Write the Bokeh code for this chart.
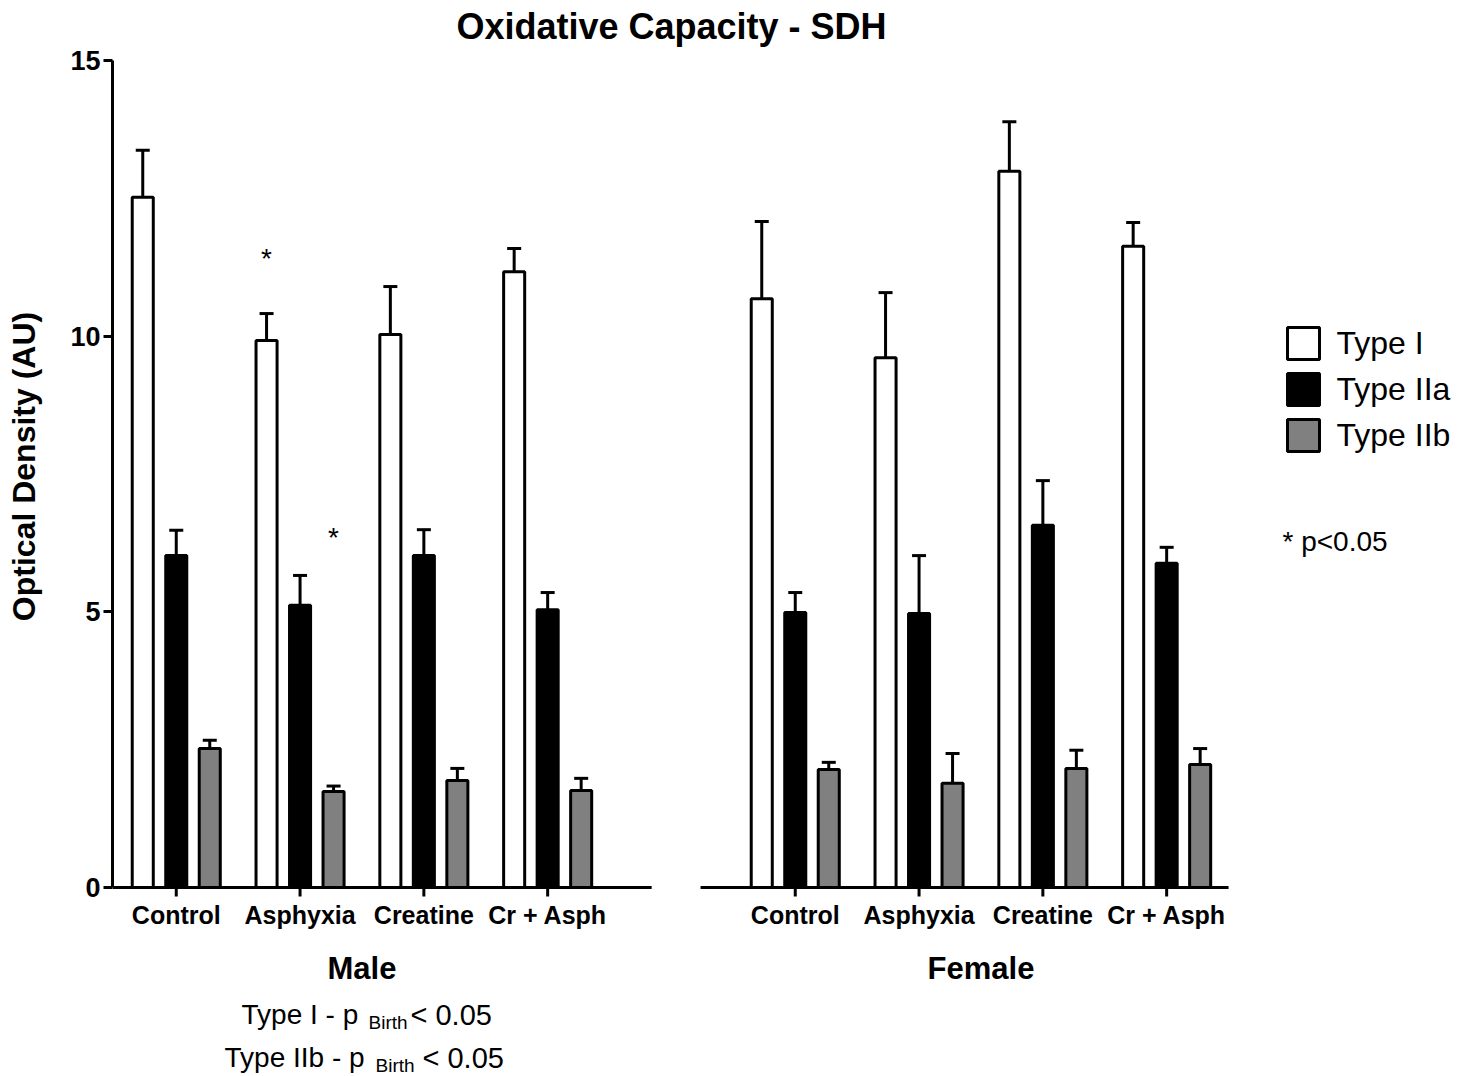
import numpy as np
from bokeh.plotting import figure
from bokeh.layouts import column
from bokeh.models import (ColumnDataSource, Range1d, FixedTicker, Whisker, TeeHead,
                          Legend, LegendItem, Label)
from bokeh.core.properties import value
from bokeh.embed import file_html
from bokeh.resources import INLINE

# ---------------- data ----------------
categories = ["Control", "Asphyxia", "Creatine", "Cr + Asph"]
sexes = ["Male", "Female"]
fiber_types = ["Type I", "Type IIa", "Type IIb"]

male_type_i = [12.52, 9.92, 10.03, 11.17]
male_type_i_err = [0.85, 0.49, 0.87, 0.42]
male_type_iia = [6.02, 5.12, 6.02, 5.04]
male_type_iia_err = [0.46, 0.54, 0.47, 0.31]
male_type_iib = [2.52, 1.74, 1.94, 1.76]
male_type_iib_err = [0.15, 0.10, 0.22, 0.22]

female_type_i = [10.68, 9.61, 12.99, 11.63]
female_type_i_err = [1.40, 1.18, 0.90, 0.43]
female_type_iia = [4.99, 4.97, 6.57, 5.88]
female_type_iia_err = [0.36, 1.05, 0.81, 0.29]
female_type_iib = [2.14, 1.89, 2.16, 2.23]
female_type_iib_err = [0.13, 0.54, 0.33, 0.29]

sig_sex = ["Male", "Male"]
sig_category = ["Asphyxia", "Asphyxia"]
sig_type = ["Type I", "Type IIb"]
sig_y = [11.4, 6.35]

y_ticks = [0, 5, 10, 15]

# ---------------- layout helpers ----------------
FONT = "Liberation Sans"
W = 1470
H_MAIN = 932
H_BOT = 1076 - H_MAIN
LEFT = 112                 # page x of the y axis / frame left
PXX = 123.8                # px per group
PXY = 827.0 / 15           # px per y unit
Y0_PAGE = 887.0            # page y of value 0
X_START = -0.515
X0_PAGE = LEFT - X_START * PXX


def dx(px):
    return (px - X0_PAGE) / PXX


def dy(py):
    return (Y0_PAGE - py) / PXY


sex_offset = {"Male": 0.0, "Female": 5.0}
type_offset = {"Type I": -0.2706, "Type IIa": 0.0, "Type IIb": 0.2706}
type_fill = {"Type I": "white", "Type IIa": "black", "Type IIb": "#808080"}
axis_pad = {"Male": (0.515, 0.84), "Female": (0.765, 0.50)}

values = {
    ("Male", "Type I"): (male_type_i, male_type_i_err),
    ("Male", "Type IIa"): (male_type_iia, male_type_iia_err),
    ("Male", "Type IIb"): (male_type_iib, male_type_iib_err),
    ("Female", "Type I"): (female_type_i, female_type_i_err),
    ("Female", "Type IIa"): (female_type_iia, female_type_iia_err),
    ("Female", "Type IIb"): (female_type_iib, female_type_iib_err),
}

x_range = Range1d(X_START, X_START + (W - LEFT) / PXX)

p = figure(width=W, height=H_MAIN,
           x_range=x_range,
           y_range=Range1d(dy(H_MAIN), dy(0)),
           x_axis_location=None, y_axis_location="left",
           output_backend="svg", toolbar_location=None,
           min_border_left=LEFT, min_border_right=0,
           min_border_top=0, min_border_bottom=0,
           outline_line_color=None, background_fill_color="white")
p.grid.visible = False

yaxis = p.yaxis[0]
yaxis.ticker = FixedTicker(ticks=y_ticks)
yaxis.bounds = (0, 15)
yaxis.axis_line_width = 3
yaxis.axis_line_color = "black"
yaxis.major_tick_line_width = 3
yaxis.major_tick_line_color = "black"
yaxis.major_tick_out = 9
yaxis.major_tick_in = 0
yaxis.minor_tick_line_color = None
yaxis.major_label_text_font = FONT
yaxis.major_label_text_font_size = "27px"
yaxis.major_label_text_font_style = "bold"
yaxis.major_label_text_color = "black"
yaxis.major_label_standoff = 3
yaxis.axis_label = "Optical Density (AU)"
yaxis.axis_label_text_font = FONT
yaxis.axis_label_text_font_size = "32px"
yaxis.axis_label_text_font_style = "bold"
yaxis.axis_label_text_color = "black"
yaxis.axis_label_standoff = 25

# ---------------- baselines and ticks ----------------
for sex in sexes:
    c0 = sex_offset[sex]
    c1 = sex_offset[sex] + len(categories) - 1
    lpad, rpad = axis_pad[sex]
    p.segment(x0=[c0 - lpad], y0=[0], x1=[c1 + rpad], y1=[0],
              line_color="black", line_width=3, line_cap="butt")

centers = []
labels = []
for sex in sexes:
    for i, cat in enumerate(categories):
        centers.append(sex_offset[sex] + i)
        labels.append(cat)

p.segment(x0=centers, y0=[0] * len(centers), x1=centers,
          y1=[-9 / PXY] * len(centers),
          line_color="black", line_width=3, line_cap="butt")

p.text(x=centers, y=[0] * len(centers), text=labels, y_offset=27,
       text_align="center", text_baseline="alphabetic",
       text_font=value(FONT), text_font_size="25px", text_font_style="bold",
       text_color="black")

# ---------------- bars + error bars ----------------
renderers = {}
for t in fiber_types:
    xs, tops, uppers = [], [], []
    for sex in sexes:
        vals, errs = values[(sex, t)]
        for i in range(len(categories)):
            xs.append(sex_offset[sex] + i + type_offset[t])
            tops.append(vals[i])
            uppers.append(vals[i] + errs[i])
    src = ColumnDataSource(dict(x=xs, top=tops, upper=uppers))
    r = p.vbar(x="x", top="top", bottom=0, width=0.17, source=src,
               fill_color=type_fill[t], line_color="black", line_width=3)
    renderers[t] = r
    w = Whisker(source=src, base="x", lower="top", upper="upper",
                dimension="height", line_color="black", line_width=3,
                upper_head=TeeHead(size=14, line_width=3, line_color="black"),
                lower_head=None)
    p.add_layout(w)

# significance stars
sig_x = [sex_offset[s] + categories.index(c) + type_offset[t]
         for s, c, t in zip(sig_sex, sig_category, sig_type)]
p.text(x=sig_x, y=sig_y, text=["*"] * len(sig_x),
       text_align="center", text_baseline="middle",
       text_font=value(FONT), text_font_size="28px", text_color="black")

# ---------------- legend ----------------
legend = Legend(items=[LegendItem(label=t, renderers=[renderers[t]]) for t in fiber_types],
                location=(1282.5 - LEFT, H_MAIN - 455),
                border_line_color=None, background_fill_alpha=0,
                label_text_font=FONT, label_text_font_size="32px",
                label_text_color="black",
                label_standoff=14, glyph_width=40, glyph_height=40,
                label_height=40, spacing=6, padding=0, margin=0)
p.add_layout(legend)

# ---------------- texts in the main panel ----------------
p.add_layout(Label(x=dx(671), y=dy(26), text="Oxidative Capacity - SDH",
                   text_align="center", text_baseline="alphabetic",
                   text_font=FONT, text_font_size="36px", text_font_style="bold",
                   text_color="black"))

p.add_layout(Label(x=dx(1282), y=dy(541), text="* p<0.05",
                   text_align="left", text_baseline="alphabetic",
                   text_font=FONT, text_font_size="28px", text_color="black"))

# ---------------- bottom panel (group names + notes) ----------------
pb = figure(width=W, height=H_BOT, x_range=x_range,
            y_range=Range1d(1076, H_MAIN),        # page-y coordinates
            x_axis_location=None, y_axis_location=None,
            output_backend="svg", toolbar_location=None,
            min_border_left=LEFT, min_border_right=0,
            min_border_top=0, min_border_bottom=0,
            outline_line_color=None, background_fill_color="white")
pb.grid.visible = False

sex_centers = [sex_offset[s] + (len(categories) - 1) / 2 for s in sexes]
pb.text(x=sex_centers, y=[968, 968], text=sexes,
        text_align="center", text_baseline="alphabetic",
        text_font=value(FONT), text_font_size="31px", text_font_style="bold",
        text_color="black")

pval_lines = [
    # (main text, main left px, baseline px, sub left px, tail left px, tail text)
    ("Type I - p", 241, 1014, 368, 410, "< 0.05"),
    ("Type IIb - p", 224, 1057, 375, 422, "< 0.05"),
]
for main, xl, base, xs_, xt, tail in pval_lines:
    pb.add_layout(Label(x=dx(xl), y=base, text=main, text_align="left",
                        text_baseline="alphabetic", text_font=FONT,
                        text_font_size="28px", text_color="black"))
    pb.add_layout(Label(x=dx(xs_), y=base + 8, text="Birth", text_align="left",
                        text_baseline="alphabetic", text_font=FONT,
                        text_font_size="19px", text_color="black"))
    pb.add_layout(Label(x=dx(xt), y=base, text=tail, text_align="left",
                        text_baseline="alphabetic", text_font=FONT,
                        text_font_size="29px", text_color="black"))

layout = column(p, pb, spacing=0)
open("out.html", "w").write(file_html(layout, INLINE))
